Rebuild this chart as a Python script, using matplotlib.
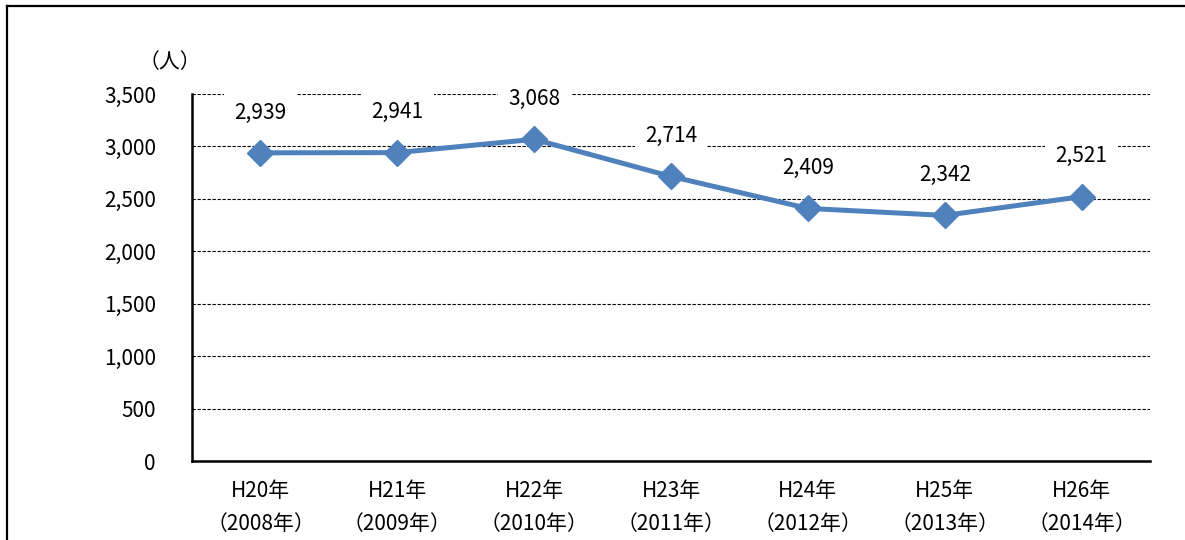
import matplotlib
matplotlib.use("Agg")
import matplotlib.pyplot as plt
from matplotlib.lines import Line2D

plt.rcParams['font.family'] = ['Noto Sans CJK JP', 'DejaVu Sans']

categories = ['H20年\n（2008年）', 'H21年\n（2009年）', 'H22年\n（2010年）', 'H23年\n（2011年）',
              'H24年\n（2012年）', 'H25年\n（2013年）', 'H26年\n（2014年）']
values = [2939, 2941, 3068, 2714, 2409, 2342, 2521]
yticks = [0, 500, 1000, 1500, 2000, 2500, 3000, 3500]
ytick_labels = ['0', '500', '1,000', '1,500', '2,000', '2,500', '3,000', '3,500']
unit_label = '（人）'

W, H = 1185, 540
fig = plt.figure(figsize=(W / 100, H / 100), dpi=100)
ax = fig.add_axes([192 / W, 1 - 461 / H, (1150 - 192) / W, (461 - 94) / H])

x = list(range(len(categories)))
color = '#4F81BD'
ax.plot(x, values, color=color, lw=3.6, marker='D', ms=13, mfc=color, mec=color,
        zorder=3, clip_on=False)

for xi, v in zip(x, values):
    ax.annotate(f'{v:,}', (xi, v), xytext=(0, 29), textcoords='offset points',
                ha='center', va='center', fontsize=15, color='black', zorder=5,
                bbox=dict(boxstyle='square,pad=0.5', fc='white', ec='none'))

ax.set_xlim(-0.5, len(categories) - 0.5)
ax.set_ylim(0, 3500)
ax.set_yticks(yticks)
ax.set_yticklabels(ytick_labels, fontsize=15)
ax.set_xticks(x)
ax.set_xticklabels(categories, fontsize=15, linespacing=1.6)
ax.tick_params(axis='y', length=0, pad=26)
ax.tick_params(axis='x', length=0, pad=14)

for yv in yticks[1:]:
    ax.axhline(yv, color='black', lw=0.8, ls=(0, (3, 1.5)), zorder=1)

for s in ['top', 'right']:
    ax.spines[s].set_visible(False)
for s in ['left', 'bottom']:
    ax.spines[s].set_linewidth(1.8)
    ax.spines[s].set_color('black')

fig.text(170 / W, 1 - 62 / H, unit_label, ha='center', va='center', fontsize=15)

# outer frame (top and left edges visible)
fig.add_artist(Line2D([7 / W, 1], [1 - 6 / H, 1 - 6 / H], transform=fig.transFigure,
                      color='black', lw=1.6))
fig.add_artist(Line2D([7 / W, 7 / W], [0, 1 - 6 / H], transform=fig.transFigure,
                      color='black', lw=1.6))

fig.savefig('out.png', dpi=100)
